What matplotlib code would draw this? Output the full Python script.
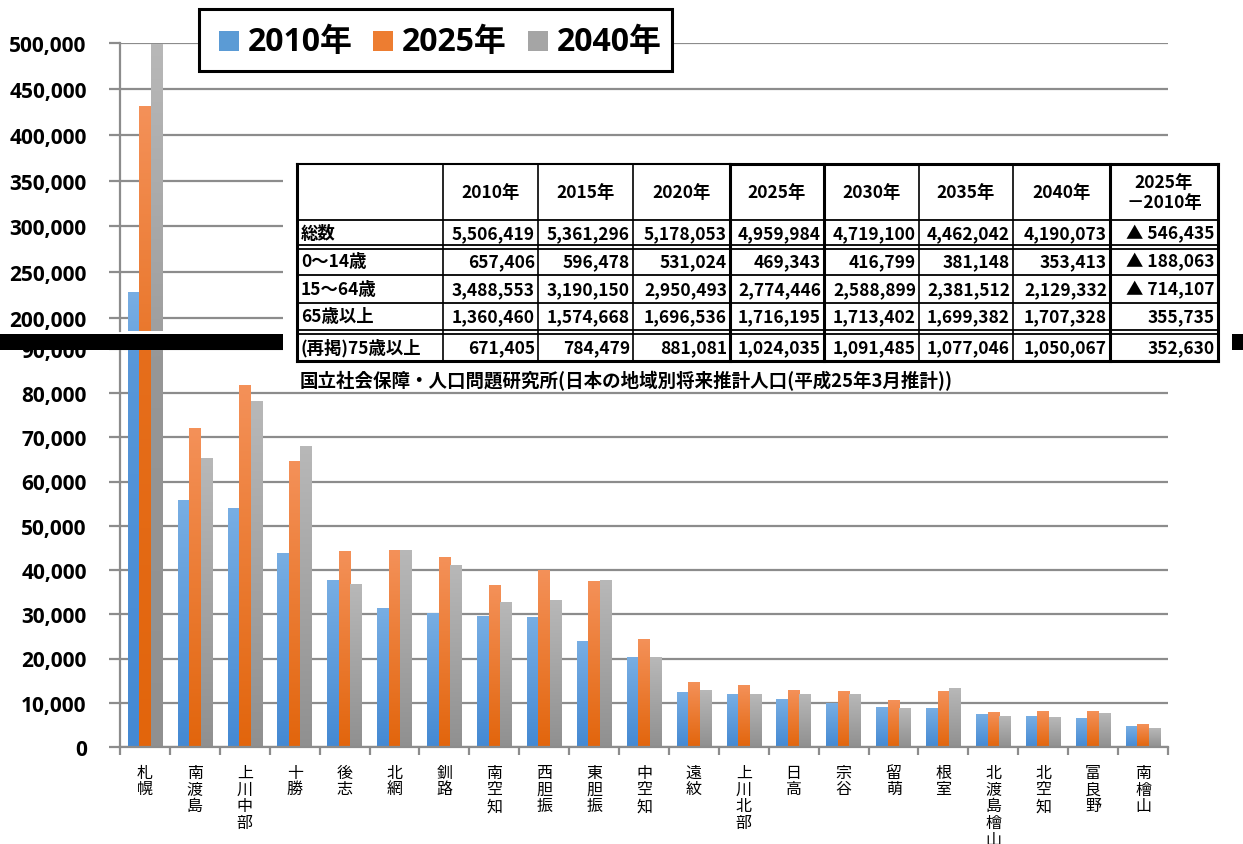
import numpy as np
import matplotlib
matplotlib.use("Agg")
import matplotlib.pyplot as plt
from matplotlib.patches import Rectangle
from matplotlib.lines import Line2D
from matplotlib.colors import LinearSegmentedColormap
from matplotlib.ticker import FuncFormatter

# ---------------- data ----------------
regions = ['札幌', '南渡島', '上川中部', '十勝', '後志', '北網', '釧路', '南空知', '西胆振', '東胆振',
           '中空知', '遠紋', '上川北部', '日高', '宗谷', '留萌', '根室', '北渡島檜山', '北空知', '富良野', '南檜山']
v2010 = [227900, 55750, 53950, 43770, 37700, 31300, 30100, 29550, 29300, 23890,
         20280, 12350, 11900, 10760, 9850, 8940, 8710, 7350, 6890, 6440, 4620]
v2025 = [430500, 72000, 81600, 64560, 44230, 44500, 42870, 36400, 39930, 37300,
         24380, 14620, 13940, 12800, 12580, 10530, 12580, 7800, 8030, 8030, 5080]
v2040 = [498500, 65100, 78100, 67950, 36800, 44450, 41050, 32700, 33150, 37520,
         20200, 12800, 11900, 11900, 11900, 8710, 13260, 6890, 6670, 7580, 4170]
series_names = ['2010年', '2025年', '2040年']

upper_ticks = [200000, 250000, 300000, 350000, 400000, 450000, 500000]
lower_ticks = [0, 10000, 20000, 30000, 40000, 50000, 60000, 70000, 80000, 90000]

table_header = ['2010年', '2015年', '2020年', '2025年', '2030年', '2035年', '2040年', '2025年\n－2010年']
table_rows = ['総数', '0～14歳', '15～64歳', '65歳以上', '(再掲)75歳以上']
t_total = [5506419, 5361296, 5178053, 4959984, 4719100, 4462042, 4190073]
t_0_14 = [657406, 596478, 531024, 469343, 416799, 381148, 353413]
t_15_64 = [3488553, 3190150, 2950493, 2774446, 2588899, 2381512, 2129332]
t_65 = [1360460, 1574668, 1696536, 1716195, 1713402, 1699382, 1707328]
t_75 = [671405, 784479, 881081, 1024035, 1091485, 1077046, 1050067]
t_diff = [-546435, -188063, -714107, 355735, 352630]
source_note = '国立社会保障・人口問題研究所(日本の地域別将来推計人口(平成25年3月推計))'

# ---------------- styling ----------------
JP = ['Noto Sans CJK JP', 'DejaVu Sans']
NUM = ['Open Sans', 'Noto Sans CJK JP', 'DejaVu Sans']
plt.rcParams['font.family'] = JP

W, H = 1243, 845
def fx(p): return p / W
def fy(p): return 1 - p / H

GRID = '#8c8c8c'
colors = [('#78aee3', '#4489d3'), ('#f49159', '#e2650c'), ('#b8b8b8', '#909090')]
flat = ['#5b9bd5', '#ed7d31', '#a5a5a5']

fig = plt.figure(figsize=(W / 100, H / 100), dpi=100)
fig.patch.set_facecolor('white')

left, right = 120, 1168
ax_hi = fig.add_axes([fx(left), fy(332), (right - left) / W, (332 - 44) / H])
ax_lo = fig.add_axes([fx(left), fy(748), (right - left) / W, (748 - 345) / H])

x = np.arange(len(regions))
bw = 0.23
offs = [-bw, 0, bw]
data = [v2010, v2025, v2040]

grad = np.linspace(0, 1, 256).reshape(-1, 1)
for ax, ylim in [(ax_hi, (186000, 500000)), (ax_lo, (0, (748 - 345) / 44.25 * 10000))]:
    for i, vals in enumerate(data):
        bars = ax.bar(x + offs[i], vals, width=bw, color=flat[i], zorder=2, linewidth=0)
        cmap = LinearSegmentedColormap.from_list('g%d' % i, [colors[i][1], colors[i][0]])
        for b in bars:
            x0, w, h = b.get_x(), b.get_width(), b.get_height()
            ax.imshow(grad, extent=(x0, x0 + w, 0, h), origin='lower', aspect='auto',
                      cmap=cmap, zorder=2.1, interpolation='bilinear')
    ax.set_xlim(-0.5, len(regions) - 0.5)
    ax.set_ylim(*ylim)
    ax.set_axisbelow(True)
    ax.yaxis.grid(True, color=GRID, lw=1.6)
    ax.xaxis.grid(False)
    for s in ['top', 'right']:
        ax.spines[s].set_visible(False)
    ax.spines['left'].set_color(GRID)
    ax.spines['left'].set_linewidth(1.6)
    ax.yaxis.set_major_formatter(FuncFormatter(lambda v, p: f'{int(v):,}'))
    ax.tick_params(axis='y', length=8, width=1.6, color=GRID, pad=16)

ax_hi.set_yticks(upper_ticks)
ax_lo.set_yticks(lower_ticks)
for ax in (ax_hi, ax_lo):
    for lab in ax.get_yticklabels():
        lab.set_fontfamily(NUM)
        lab.set_fontweight('bold')
        lab.set_fontsize(15)

ax_hi.spines['bottom'].set_visible(False)
ax_hi.set_xticks([])
ax_lo.spines['bottom'].set_color(GRID)
ax_lo.spines['bottom'].set_linewidth(1.6)
ax_lo.set_xticks(x, labels=['\n'.join(r) for r in regions])
ax_lo.set_xticks(np.arange(-0.5, len(regions), 1), minor=True)
ax_lo.tick_params(axis='x', which='major', length=0, pad=12)
ax_lo.tick_params(axis='x', which='minor', length=6, width=1.6, color=GRID)
for lab in ax_lo.get_xticklabels():
    lab.set_fontsize(11.5)
    lab.set_linespacing(0.98)
    lab.set_fontfamily(JP)

# ---------------- break markers ----------------
fig.add_artist(Rectangle((fx(0), fy(351)), fx(283), (351 - 335) / H, transform=fig.transFigure,
                         facecolor='black', edgecolor='none', zorder=10))
fig.add_artist(Rectangle((fx(1232), fy(351)), fx(W - 1232), (351 - 335) / H, transform=fig.transFigure,
                         facecolor='black', edgecolor='none', zorder=10))

# ---------------- table ----------------
fig.add_artist(Rectangle((fx(283), fy(386)), fx(1232 - 283), (386 - 158) / H, transform=fig.transFigure,
                         facecolor='white', edgecolor='none', zorder=6))
col_x = [297, 443, 538, 633, 730, 824, 919, 1013, 1110, 1218]
def hline(y, x0, x1, lw):
    fig.add_artist(Line2D([fx(x0), fx(x1)], [fy(y), fy(y)], transform=fig.transFigure,
                          color='black', lw=lw, zorder=7, solid_capstyle='projecting'))
def vline(xp, y0, y1, lw):
    fig.add_artist(Line2D([fx(xp), fx(xp)], [fy(y0), fy(y1)], transform=fig.transFigure,
                          color='black', lw=lw, zorder=7, solid_capstyle='projecting'))

top, bot = 165, 362
hline(top, 297, 730, 1.5)
hline(top, 730, 1218, 2.2)
hline(221, 297, 1218, 1.3)
hline(246, 297, 1218, 1.3)
hline(249.5, 297, 1218, 1.3)
hline(276, 297, 1218, 1.3)
hline(304, 297, 1218, 1.3)
hline(331, 297, 1218, 1.3)
hline(334.5, 297, 1218, 1.3)
hline(bot, 297, 1218, 2.2)
for cx in col_x:
    thick = cx in (730, 824, 1110, 1218, 297)
    vline(cx, top, bot, 2.2 if thick else 1.2)

row_c = [234, 262.5, 290, 317.5, 348]
TF = dict(fontsize=12.5, fontweight='bold', family=JP, zorder=8, transform=fig.transFigure)
for j, h in enumerate(table_header):
    cx = (col_x[j + 1] + col_x[j + 2]) / 2
    fig.text(fx(cx), fy(193), h, ha='center', va='center', linespacing=1.15, **TF)
rows_vals = [t_total, t_0_14, t_15_64, t_65, t_75]
for r, (lab, vals) in enumerate(zip(table_rows, rows_vals)):
    fig.text(fx(301), fy(row_c[r]), lab, ha='left', va='center', **TF)
    for j, v in enumerate(vals):
        fig.text(fx(col_x[j + 2] - 3), fy(row_c[r]), f'{v:,}', ha='right', va='center', **TF)
    d = t_diff[r]
    s = f'▲ {abs(d):,}' if d < 0 else f'{d:,}'
    fig.text(fx(col_x[9] - 3), fy(row_c[r]), s, ha='right', va='center', **TF)
fig.text(fx(300), fy(381), source_note, ha='left', va='center',
         **{**TF, 'fontsize': 13.3})

# ---------------- legend ----------------
fig.add_artist(Rectangle((fx(199), fy(72)), fx(672 - 199), (72 - 10) / H, transform=fig.transFigure,
                         facecolor='white', edgecolor='black', lw=2.2, zorder=9))
leg_sq = [219, 373, 528]
for i, name in enumerate(series_names):
    fig.add_artist(Rectangle((fx(leg_sq[i]), fy(52)), fx(20), 20 / H, transform=fig.transFigure,
                             facecolor=flat[i], edgecolor='none', zorder=10))
    fig.text(fx(leg_sq[i] + 29), fy(42), name, ha='left', va='center', fontsize=23,
             fontweight='bold', family=NUM, zorder=10)

fig.savefig('out.png', dpi=100, facecolor='white')
